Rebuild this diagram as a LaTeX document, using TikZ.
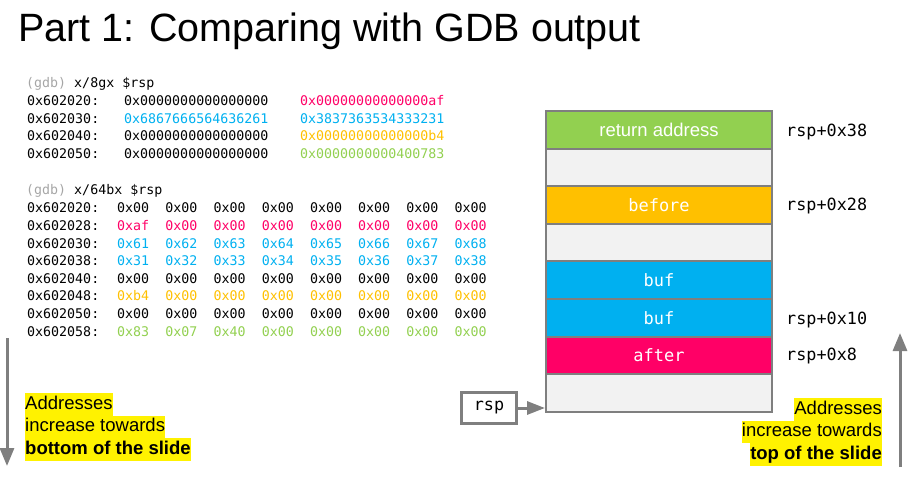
\documentclass[tikz,border=0pt]{standalone}
\usepackage{fontspec}
\setmainfont{Liberation Sans}
\newfontfamily\codefont{DejaVu Sans Mono}
\usetikzlibrary{arrows.meta}
\definecolor{cpink}{HTML}{FF0066}
\definecolor{cblue}{HTML}{00B0F0}
\definecolor{corange}{HTML}{FFC000}
\definecolor{cgreen}{HTML}{92D050}
\definecolor{cgray}{HTML}{7F7F7F}
\definecolor{cempty}{HTML}{F2F2F2}
\definecolor{cgdb}{HTML}{A6A6A6}
\begin{document}
\begin{tikzpicture}[x=1pt,y=-1pt,
  code/.style={font=\codefont\fontsize{13.3}{16}\selectfont, inner sep=0pt, anchor=base west},
  cell/.style={draw=cgray, line width=2pt, minimum width=226pt, minimum height=37.6pt, inner sep=0pt, text=white},
  celltxt/.style={font=\codefont\fontsize{17}{20}\selectfont},
  offs/.style={font=\codefont\fontsize{16.8}{20}\selectfont, inner sep=0pt, anchor=base west},
  hl/.style={fill=yellow, inner sep=0pt, text height=14pt, text depth=4.2pt, minimum height=22.7pt, font=\fontsize{18.5}{22}\selectfont},
  garrow/.style={draw=cgray, line width=3pt, -{Triangle[length=18pt,width=14pt]}}]
\useasboundingbox (0,0) rectangle (910,480);

% title
\node[inner sep=0pt, anchor=base west, font=\fontsize{39.5}{48}\selectfont] (title) at (18,41) {Part 1: Comparing with GDB output};

% block 1
\node[code] (h1) at (26,87.8) {\textcolor{cgdb}{(gdb)} x/8gx \$rsp};
\foreach \i/\a/\b/\cb/\c/\cc in {
  0/0x602020/0x0000000000000000/black/0x00000000000000af/cpink,
  1/0x602030/0x6867666564636261/cblue/0x3837363534333231/cblue,
  2/0x602040/0x0000000000000000/black/0x00000000000000b4/corange,
  3/0x602050/0x0000000000000000/black/0x0000000000400783/cgreen}{
  \node[code] (qa\i) at ({27},{101+17.5*\i+4.8}) {\a:};
  \node[code, text=\cb] (qb\i) at ({124},{101+17.5*\i+4.8}) {\b};
  \node[code, text=\cc] (qc\i) at ({300},{101+17.5*\i+4.8}) {\c};
}

% block 2
\node[code] (h2) at (26,194.8) {\textcolor{cgdb}{(gdb)} x/64bx \$rsp};
\foreach \r/\addr/\col/\bytes in {
  0/0x602020/black/{0x00,0x00,0x00,0x00,0x00,0x00,0x00,0x00},
  1/0x602028/cpink/{0xaf,0x00,0x00,0x00,0x00,0x00,0x00,0x00},
  2/0x602030/cblue/{0x61,0x62,0x63,0x64,0x65,0x66,0x67,0x68},
  3/0x602038/cblue/{0x31,0x32,0x33,0x34,0x35,0x36,0x37,0x38},
  4/0x602040/black/{0x00,0x00,0x00,0x00,0x00,0x00,0x00,0x00},
  5/0x602048/corange/{0xb4,0x00,0x00,0x00,0x00,0x00,0x00,0x00},
  6/0x602050/black/{0x00,0x00,0x00,0x00,0x00,0x00,0x00,0x00},
  7/0x602058/cgreen/{0x83,0x07,0x40,0x00,0x00,0x00,0x00,0x00}}{
  \node[code] (ba\r) at ({27},{208+17.6*\r+4.8}) {\addr:};
  \foreach \b [count=\k from 0] in \bytes {
    \node[code, text=\col] (b\r x\k) at ({117+48.2*\k},{208+17.6*\r+4.8}) {\b};
  }
}

% stack
\node[cell, fill=cgreen, font=\fontsize{18.5}{22}\selectfont] (s1) at (659,129.8) {return address};
\node[cell, fill=cempty] (s2) at (659,167.4) {};
\node[cell, fill=corange, celltxt] (s3) at (659,205.0) {before};
\node[cell, fill=cempty] (s4) at (659,242.6) {};
\node[cell, fill=cblue, celltxt] (s5) at (659,280.2) {buf};
\node[cell, fill=cblue, celltxt] (s6) at (659,317.8) {buf};
\node[cell, fill=cpink, celltxt] (s7) at (659,355.4) {after};
\node[cell, fill=cempty] (s8) at (659,393.0) {};

\node[offs] (o1) at (786,136) {rsp+0x38};
\node[offs] (o3) at (786,210.5) {rsp+0x28};
\node[offs] (o6) at (786,324) {rsp+0x10};
\node[offs] (o7) at (786,360.5) {rsp+0x8};

% rsp pointer
\node[draw=cgray, line width=2.5pt, fill=white, minimum width=55pt, minimum height=31pt, inner sep=0pt, font=\codefont\fontsize{16.8}{20}\selectfont] (rsp) at (489,408) {rsp};
\draw[draw=cgray, line width=3pt, -{Triangle[length=18pt,width=13pt]}] (rsp.east) -- (rsp.east -| s8.west);

% left note
\node[hl, anchor=west] (l1) at (25,404.35) {Addresses};
\node[hl, anchor=west] (l2) at (25,427.05) {increase towards};
\node[hl, anchor=west, font=\bfseries\fontsize{18.5}{22}\selectfont] (l3) at (25,449.75) {bottom of the slide};
\coordinate (lA) at (7,338);
\coordinate (lB) at (7,466);
\draw[garrow] (lA) -- (lB);

% right note
\node[hl, anchor=east] (r1) at (882,409.35) {Addresses};
\node[hl, anchor=east] (r2) at (882,432.05) {increase towards};
\node[hl, anchor=east, font=\bfseries\fontsize{18.5}{22}\selectfont] (r3) at (882,454.75) {top of the slide};
\coordinate (rA) at (900,467);
\coordinate (rB) at (900,333);
\draw[garrow] (rA) -- (rB);
\end{tikzpicture}
\end{document}
